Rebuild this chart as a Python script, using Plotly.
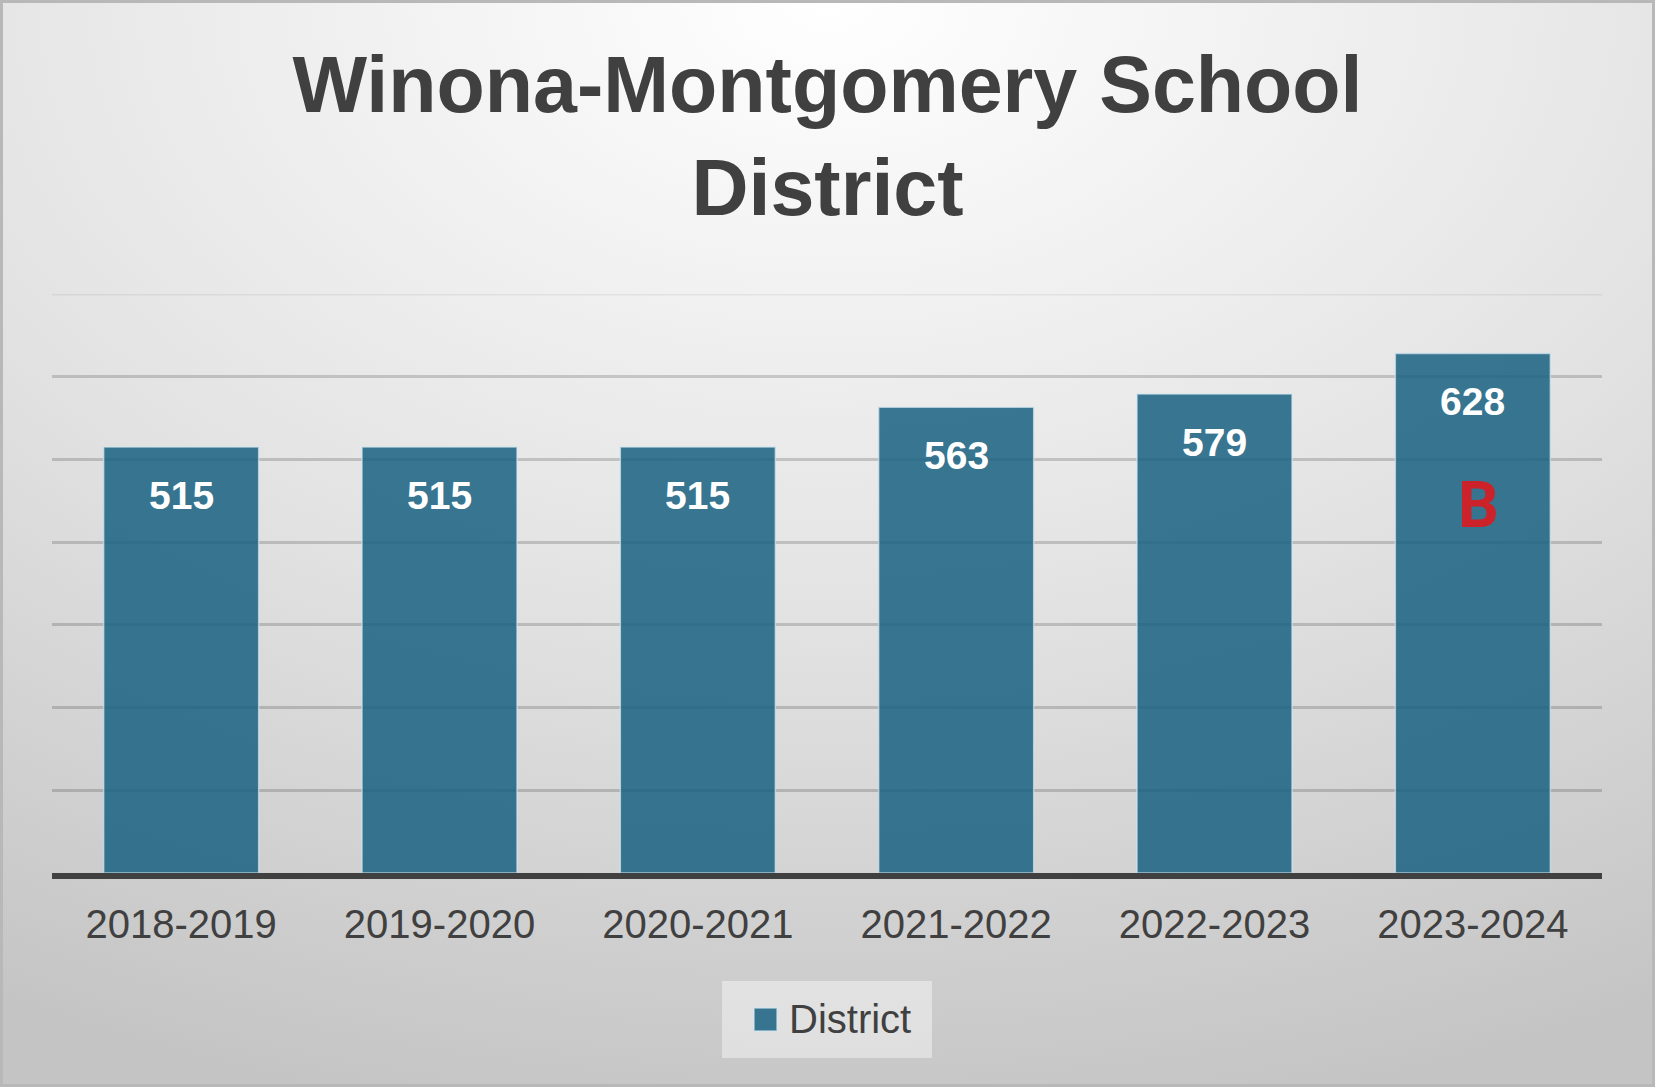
import base64
import plotly.graph_objects as go

# Enrollment by school year
years = ["2018-2019", "2019-2020", "2020-2021", "2021-2022", "2022-2023", "2023-2024"]
district = [515, 515, 515, 563, 579, 628]
grade_label = "B"   # accountability grade shown on latest bar
series_name = "District"

title_text = "Winona-Montgomery School<br>District"

W, H = 1655, 1087
margin = dict(l=52, r=53, t=294, b=214)
plot_w = W - margin["l"] - margin["r"]
plot_h = H - margin["t"] - margin["b"]

colours = {
    "bar": "rgba(27, 98, 130, 0.86)",
    "bar_edge": "rgba(210, 230, 240, 0.7)",
    "text": "#404040",
    "grade": "#cc2229",
}


# pixel position on the page -> paper coordinates
def px(x):
    return (x - margin["l"]) / plot_w


def py(y):
    return 1 - (y - margin["t"]) / plot_h


# Radial grey background (white at top centre) with a thin frame
bg_svg = f"""<svg xmlns='http://www.w3.org/2000/svg' width='{W}' height='{H}' viewBox='0 0 {W} {H}' preserveAspectRatio='none'>
<defs><radialGradient id='g' cx='50%' cy='0%' r='105%' fx='50%' fy='0%'>
<stop offset='0' stop-color='#ffffff'/><stop offset='0.55' stop-color='#e2e2e2'/><stop offset='1' stop-color='#c4c4c4'/>
</radialGradient></defs>
<rect x='0' y='0' width='{W}' height='{H}' fill='url(#g)'/>
<rect x='1.5' y='1.5' width='{W - 3}' height='{H - 3}' fill='none' stroke='#b8b8b8' stroke-width='3'/>
</svg>"""
bg_uri = "data:image/svg+xml;base64," + base64.b64encode(bg_svg.encode()).decode()

fig = go.Figure(
    go.Bar(x=years,
           y=district,
           name=series_name,
           marker=dict(color=colours["bar"],
                       line=dict(color=colours["bar_edge"], width=1.5)),
           hoverinfo="skip"))

# Value labels just inside the top of each bar
for yr, val in zip(years, district):
    fig.add_annotation(x=yr, y=val, text=f"<b>{val}</b>", showarrow=False,
                       yshift=-48, font=dict(family="Liberation Sans", size=39, color="white"))

fig.add_annotation(x=years[-1], y=district[-1], text=f"<b>{grade_label}</b>", showarrow=False,
                   yshift=-152, xshift=6,
                   font=dict(family="Roboto", size=64, color=colours["grade"]))

# Lighter top gridline
fig.add_shape(type="line", xref="paper", yref="y", x0=0, x1=1, y0=700, y1=700,
              line=dict(color="rgba(0,0,0,0.06)", width=3), layer="below")

# Legend box drawn by hand (bigger swatch than plotly's bar legend)
fig.add_shape(type="rect", xref="paper", yref="paper",
              x0=px(722), x1=px(932), y0=py(981), y1=py(1058),
              fillcolor="rgba(255,255,255,0.42)", line_width=0, layer="below")
fig.add_shape(type="rect", xref="paper", yref="paper",
              x0=px(754), x1=px(777), y0=py(1008), y1=py(1031),
              fillcolor=colours["bar"], line=dict(color=colours["bar_edge"], width=1.5))
fig.add_annotation(xref="paper", yref="paper", x=px(787), y=py(1019),
                   xanchor="left", yanchor="middle", text=series_name, showarrow=False,
                   font=dict(family="Liberation Sans", size=40, color=colours["text"]))

fig.add_layout_image(source=bg_uri, xref="paper", yref="paper",
                     x=-margin["l"] / plot_w, y=1 + margin["t"] / plot_h,
                     sizex=W / plot_w, sizey=H / plot_h,
                     xanchor="left", yanchor="top", sizing="stretch", layer="below")

fig.update_layout(
    width=W, height=H,
    margin=margin,
    paper_bgcolor="white",
    plot_bgcolor="rgba(0,0,0,0)",
    bargap=0.4,
    title=dict(text=f"<b>{title_text}</b>", x=0.5, xanchor="center",
               y=1 - 112 / H, yanchor="top", yref="container",
               font=dict(family="Liberation Sans", size=79, color=colours["text"])),
    font=dict(family="Liberation Sans", color=colours["text"]),
    xaxis=dict(showline=True, linecolor="#404040", linewidth=6,
               tickfont=dict(size=40, color=colours["text"]),
               ticklabelstandoff=11, fixedrange=True),
    yaxis=dict(range=[0, 700], tickvals=[100, 200, 300, 400, 500, 600],
               showticklabels=False, gridcolor="rgba(0,0,0,0.17)", gridwidth=3,
               zeroline=False, fixedrange=True),
    showlegend=False,
    hovermode=False,
)

fig.write_html("out.html", config={"displayModeBar": False},
               post_script="document.body.style.margin='0';")
